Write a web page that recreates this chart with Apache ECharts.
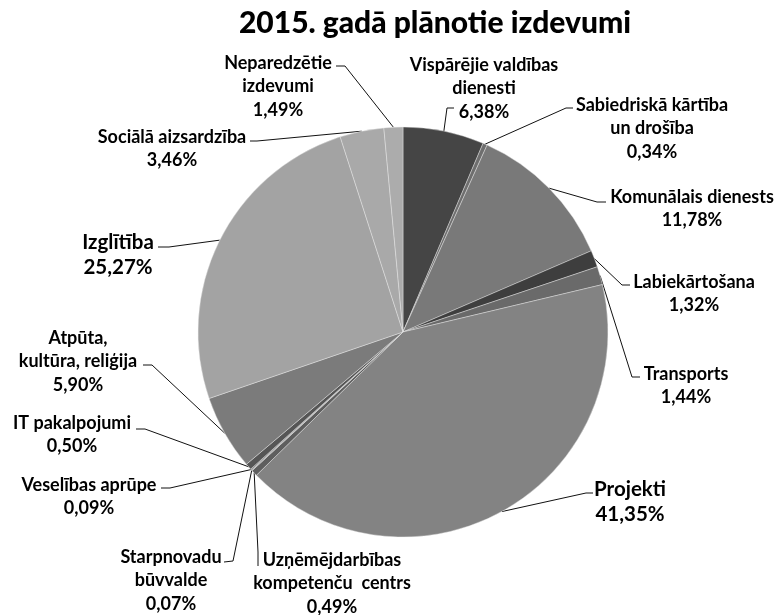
<!DOCTYPE html>
<html>
<head>
<meta charset="utf-8">
<script src="https://cdn.jsdelivr.net/npm/echarts@6/dist/echarts.min.js"></script>
<style>
html,body{margin:0;padding:0;background:#fff;}
#chart{width:778px;height:615px;}
</style>
</head>
<body>
<div id="chart"></div>
<script>
// ---- data ----
const titleText = '2015. gadā plānotie izdevumi';
const categories = [
  'Vispārējie valdības\ndienesti',
  'Sabiedriskā kārtība\nun drošība',
  'Komunālais dienests',
  'Labiekārtošana',
  'Transports',
  'Projekti',
  'Uzņēmējdarbības\nkompetenču  centrs',
  'Starpnovadu\nbūvvalde',
  'Veselības aprūpe',
  'IT pakalpojumi',
  'Atpūta,\nkultūra, reliģija',
  'Izglītība',
  'Sociālā aizsardzība',
  'Neparedzētie\nizdevumi'
];
const values = [6.38, 0.34, 11.78, 1.32, 1.44, 41.35, 0.49, 0.07, 0.09, 0.50, 5.90, 25.27, 3.46, 1.49];

// ---- styling / layout (not data) ----
const colors = ['#454545', '#6e6e6e', '#797979', '#3e3e3e', '#6a6a6a', '#838383',
                '#5e5e5e', '#8c8c8c', '#767676', '#555555', '#7b7b7b', '#a3a3a3', '#a9a9a9', '#acacac'];
const bigLabels = [5, 11];
// label layout: [centerX, firstLineCenterY, elbowX, elbowY, endX, endY]
const labelPos = [
  [484, 65, 447, 108, 454, 108],
  [652, 105, 566, 108, 573, 108],
  [692, 197, 597, 202, 606, 202],
  [694, 282, 622, 285, 630, 285],
  [686, 374, 632, 377, 640, 377],
  [630, 489, 586, 493, 593, 493],
  [332, 560, 258, 552, 258, 566],
  [171, 557, 233, 561, 224, 562],
  [89, 485, 170, 488, 161, 488],
  [72, 423, 145, 429, 136, 429],
  [78, 338, 152, 365, 143, 365],
  [118, 242, 169, 247, 158, 247],
  [172, 137, 257, 141, 250, 141],
  [278, 63, 345, 66, 336, 66]
];
const CX = 403, CY = 332, R = 205;
const FS = 18, LH = 23.5, FS_BIG = 20.5, LH_BIG = 25;

function fmt(v) { return v.toFixed(2).replace('.', ',') + '%'; }

const total = values.reduce((a, b) => a + b, 0);

const chart = echarts.init(document.getElementById('chart'), null, {renderer: 'canvas'});
chart.setOption({
  animation: false,
  backgroundColor: '#ffffff',
  title: {
    text: titleText,
    left: 430, top: 3, textAlign: 'center',
    textStyle: {fontFamily: 'Lato', fontWeight: 900, fontSize: 30, color: '#000'}
  },
  series: [{
    type: 'pie',
    center: [CX, CY],
    radius: R,
    startAngle: 90,
    clockwise: true,
    avoidLabelOverlap: false,
    itemStyle: {borderColor: 'rgba(235,235,235,0.7)', borderWidth: 0.6},
    label: {
      show: true,
      position: 'outside',
      formatter: p => p.name + '\n' + fmt(p.value),
      fontFamily: 'Lato', fontWeight: 'bold', fontSize: FS, lineHeight: LH,
      color: '#000', align: 'center'
    },
    labelLine: {show: true, length: 10, length2: 8, lineStyle: {color: '#111', width: 1}},
    labelLayout: function (p) {
      const i = p.dataIndex;
      const lp = labelPos[i];
      const big = bigLabels.indexOf(i) >= 0;
      const lh = big ? LH_BIG : LH;
      let start;
      if (p.labelLinePoints && p.labelLinePoints[0]) {
        start = p.labelLinePoints[0];
      } else {
        let cum = 0;
        for (let k = 0; k < i; k++) cum += values[k];
        const a = (cum + values[i] / 2) / total * 2 * Math.PI;
        start = [CX + R * Math.sin(a), CY - R * Math.cos(a)];
      }
      return {
        x: lp[0], y: lp[1] - lh / 2,
        align: 'center', verticalAlign: 'top',
        labelLinePoints: [start, [lp[2], lp[3]], [lp[4], lp[5]]]
      };
    },
    data: categories.map((n, i) => {
      const big = bigLabels.indexOf(i) >= 0;
      const d = {name: n, value: values[i], itemStyle: {color: colors[i]}};
      if (big) d.label = {fontSize: FS_BIG, lineHeight: LH_BIG};
      return d;
    })
  }]
});
</script>
</body>
</html>
